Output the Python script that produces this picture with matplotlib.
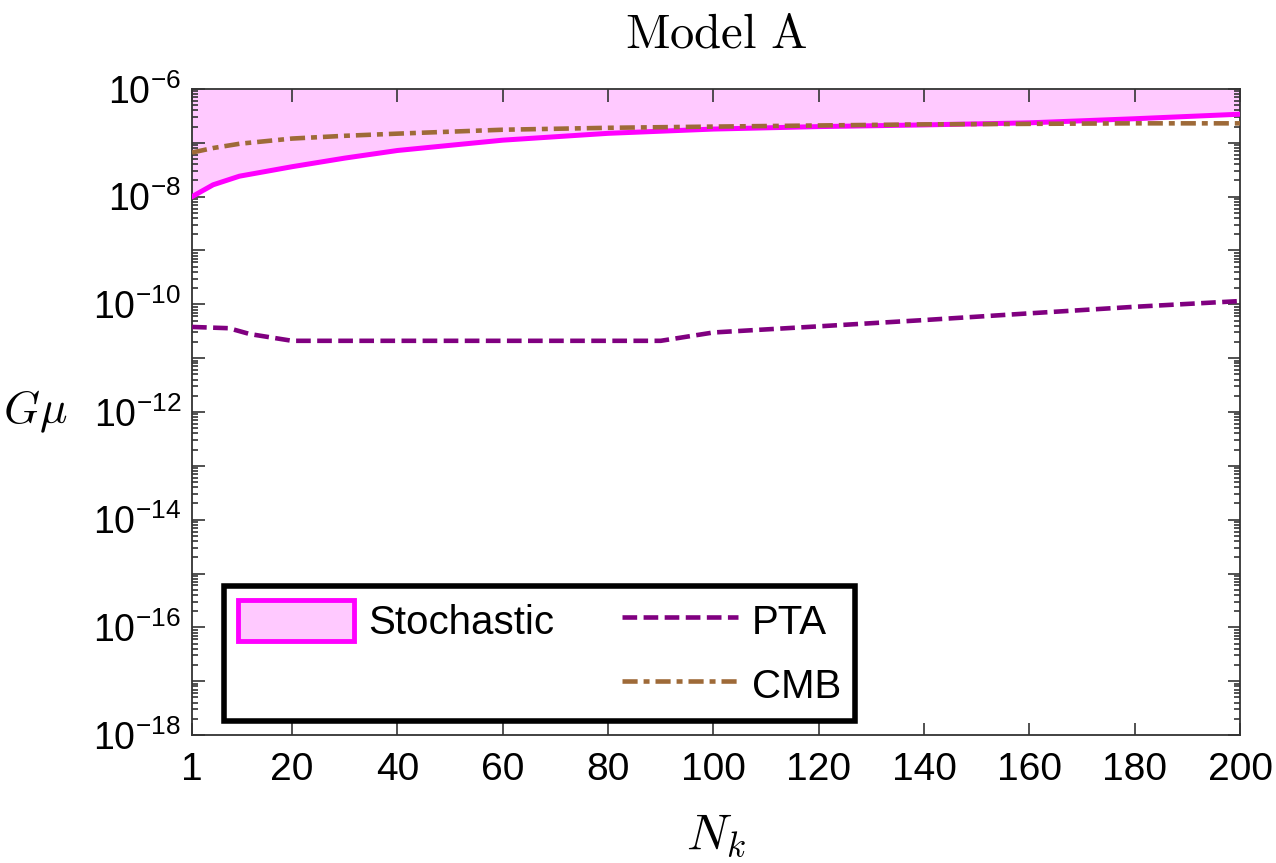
import numpy as np
import matplotlib
matplotlib.use("Agg")
from matplotlib import pyplot
from matplotlib.ticker import LogLocator, FixedLocator, NullFormatter, FuncFormatter
from matplotlib.patches import Patch
from matplotlib.lines import Line2D

pyplot.rcParams['font.family'] = ['Liberation Sans', 'DejaVu Sans']
pyplot.rcParams['mathtext.fontset'] = 'custom'
pyplot.rcParams['mathtext.rm'] = 'Liberation Sans'
pyplot.rcParams['mathtext.it'] = 'Liberation Sans:italic'

# --------------------------------------------------------------------------
# data

stoch_N = [1, 5, 10, 20, 30, 40, 60, 80, 100, 120, 140, 160, 180, 200]
stoch_Gmu = [1.0e-8, 1.66e-8, 2.4e-8, 3.6e-8, 5.2e-8, 7.2e-8, 1.12e-7, 1.5e-7,
             1.8e-7, 2.0e-7, 2.15e-7, 2.35e-7, 2.8e-7, 3.4e-7]

pta_N = [1, 8, 12, 20, 90, 100, 120, 140, 160, 180, 200]
pta_Gmu = [3.8e-11, 3.6e-11, 2.8e-11, 2.1e-11, 2.1e-11, 3.0e-11, 3.9e-11,
           5.1e-11, 6.8e-11, 9.0e-11, 1.15e-10]

cmb_N = [1, 5, 10, 20, 30, 40, 60, 80, 100, 120, 140, 160, 180, 200]
cmb_Gmu = [6.6e-8, 8.0e-8, 9.6e-8, 1.2e-7, 1.35e-7, 1.48e-7, 1.75e-7, 1.9e-7,
           2.0e-7, 2.1e-7, 2.2e-7, 2.25e-7, 2.3e-7, 2.3e-7]

xticks = [1, 20, 40, 60, 80, 100, 120, 140, 160, 180, 200]
ymin, ymax = 1e-18, 1e-6

PINK = '#FF00FF'
PINK_FILL = '#FFC9FF'
PURPLE = '#800080'
BROWN = '#9E6A38'
DASH_PTA = (3.2, 1.4)
DASH_CMB = (3.3, 1.3, 1.3, 1.3)

# --------------------------------------------------------------------------

fig = pyplot.figure(figsize=(12.76, 8.63), dpi=100)
ax = fig.add_axes([0.1505, 0.1483, 0.8213, 0.7486])

ax.fill_between(stoch_N, stoch_Gmu, ymax, color=PINK_FILL, lw=0, zorder=1)
ax.plot(stoch_N, stoch_Gmu, color=PINK, lw=3.6, zorder=3)
ax.plot(pta_N, pta_Gmu, color=PURPLE, lw=3.3, dashes=DASH_PTA, zorder=3)
ax.plot(cmb_N, cmb_Gmu, color=BROWN, lw=3.3, dashes=DASH_CMB, zorder=3)

ax.set_yscale('log')
ax.set_xlim(1, 200)
ax.set_ylim(ymin, ymax)

ax.xaxis.set_major_locator(FixedLocator(xticks))
ax.yaxis.set_major_locator(FixedLocator([10.0**e for e in range(-18, -5)]))
ax.yaxis.set_minor_locator(LogLocator(base=10, subs=np.arange(2, 10), numticks=40))
ax.yaxis.set_minor_formatter(NullFormatter())

def yfmt(v, pos):
    e = int(round(np.log10(v)))
    if e % 2: return ''
    return r'$10^{%d}$' % e
ax.yaxis.set_major_formatter(FuncFormatter(yfmt))

ax.tick_params(which='both', direction='in', top=True, right=True,
               labelsize=28, color='#333333', width=1.2)
ax.tick_params(which='major', length=9)
ax.tick_params(axis='x', which='major', pad=12)
ax.tick_params(axis='y', which='major', pad=8, labelsize=27)
ax.tick_params(which='minor', length=4.5)
for s in ax.spines.values():
    s.set_color('#333333')
    s.set_linewidth(1.3)

ax.set_title(r'$\mathrm{Model\ A}$', fontsize=35, math_fontfamily='cm', pad=30)
ax.set_xlabel(r'$N_k$', fontsize=36, math_fontfamily='cm', labelpad=18)
ax.set_ylabel(r'$G\mu$', fontsize=33, math_fontfamily='cm', rotation=0,
              va='center', ha='center')
ax.yaxis.set_label_coords(-0.15, 0.5)

handles = [Patch(facecolor=PINK_FILL, edgecolor=PINK, lw=3.5),
           Line2D([], [], color='none'),
           Line2D([], [], color=PURPLE, lw=3.3, dashes=DASH_PTA),
           Line2D([], [], color=BROWN, lw=3.3, dashes=DASH_CMB)]
labels = ['Stochastic', '', 'PTA', 'CMB']
leg = ax.legend(handles, labels, ncol=2, loc='lower left',
                bbox_to_anchor=(0.023, 0.010), fontsize=29, frameon=True,
                fancybox=False, handlelength=2.88, handleheight=1.2,
                handletextpad=0.35, columnspacing=1.67, labelspacing=0.55,
                borderpad=0.35, borderaxespad=0.2)
leg.get_frame().set_edgecolor('black')
leg.get_frame().set_linewidth(4)
leg.get_frame().set_alpha(1)

fig.savefig('out.png', dpi=100)
